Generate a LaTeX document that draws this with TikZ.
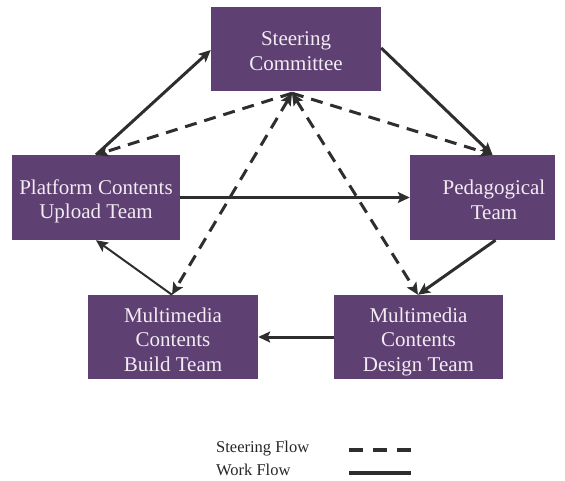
\documentclass[tikz,border=0pt]{standalone}
\usepackage{fontspec}
\setmainfont{Liberation Serif}
\usetikzlibrary{arrows.meta,calc}
\definecolor{boxpurple}{HTML}{5F4073}
\definecolor{boxtext}{HTML}{F2ECF2}
\definecolor{flowgray}{HTML}{2E2E2E}
% centred lines of box text, drawn #1 lower without changing the box size
\newcommand{\teamlines}[2]{\raisebox{#1}[\height][\depth]{\begin{tabular}{@{}c@{}}#2\end{tabular}}}
\begin{document}
\begin{tikzpicture}[x=1pt,y=-1pt,
  team/.style={rectangle, fill=boxpurple, text=boxtext, inner sep=0pt,
    align=center, font=\fontsize{21}{24.5}\selectfont},
  work/.style={draw=flowgray, line width=3pt, -{Stealth[length=12pt,width=11pt,inset=2.5pt]}},
  steer/.style={work, dash pattern=on 12pt off 8pt},
  legendtext/.style={anchor=base west, inner sep=0pt,
    font=\fontsize{16.5}{19}\selectfont, text=black!85}]
\useasboundingbox (0,0) rectangle (565,481);

% teams
\node[team, minimum width=170pt, minimum height=84pt] (sc) at (296,49)
  {\teamlines{-4pt}{Steering\\Committee}};
\node[team, minimum width=168pt, minimum height=85pt] (pcu) at (96,197.5)
  {\teamlines{-4pt}{Platform Contents\\Upload Team}};
\node[team, minimum width=145pt, minimum height=85pt] (ped) at (482.5,197.5) {};
\node[align=center, text=boxtext, inner sep=0pt,
  font=\fontsize{21}{24.5}\selectfont] (pedtext) at (494,200)
  {Pedagogical\\Team};
\node[team, minimum width=170pt, minimum height=84pt] (mb) at (173,337)
  {\teamlines{-5pt}{Multimedia\\Contents\\Build Team}};
\node[team, minimum width=169pt, minimum height=84pt] (md) at (418.5,337)
  {\teamlines{-5pt}{Multimedia\\Contents\\Design Team}};

% attachment points
\coordinate (hub) at ($(sc.south)+(-4,2)$);
\coordinate (pcuTop) at (pcu.north);
\coordinate (pedTop) at ($(ped.north)+(10,0)$);
\coordinate (scLeft) at ($(sc.west)+(0,1)$);
\coordinate (scRight) at ($(sc.east)+(0,-1)$);
\coordinate (pedBottom) at ($(ped.south)+(13,0)$);
\coordinate (mbTop) at ($(mb.north)+(-1,0)$);
\coordinate (mdTop) at ($(md.north)+(-0.5,0)$);

% work flow
\draw[work] (pcuTop) -- (scLeft);
\draw[work] (scRight) -- (pedTop);
\draw[work] (pcu.east) -- (ped.west);
\draw[work] (pedBottom) -- (mdTop);
\draw[work] (md.west) -- (mb.east);
\draw[work, line width=2pt] (mbTop) -- (pcu.south);

% steering flow
\draw[steer] (hub) -- (pcuTop);
\draw[steer] (hub) -- (pedTop);
\draw[steer, {Stealth[length=12pt,width=11pt,inset=2.5pt]}-{Stealth[length=12pt,width=11pt,inset=2.5pt]}] (hub) -- (mbTop);
\draw[steer, {Stealth[length=12pt,width=11pt,inset=2.5pt]}-{Stealth[length=12pt,width=11pt,inset=2.5pt]}] (hub) -- (mdTop);

% legend
\node[legendtext] (lgSteer) at (216,452) {Steering Flow};
\node[legendtext] (lgWork) at (216,475) {Work Flow};
\coordinate (sfA) at (349,450);
\coordinate (sfB) at (411,450);
\coordinate (wfA) at (349,473);
\coordinate (wfB) at (411,473);
\draw[draw=flowgray, line width=4pt, dash pattern=on 14pt off 10pt] (sfA) -- (sfB);
\draw[draw=flowgray, line width=4pt] (wfA) -- (wfB);
\end{tikzpicture}
\end{document}
